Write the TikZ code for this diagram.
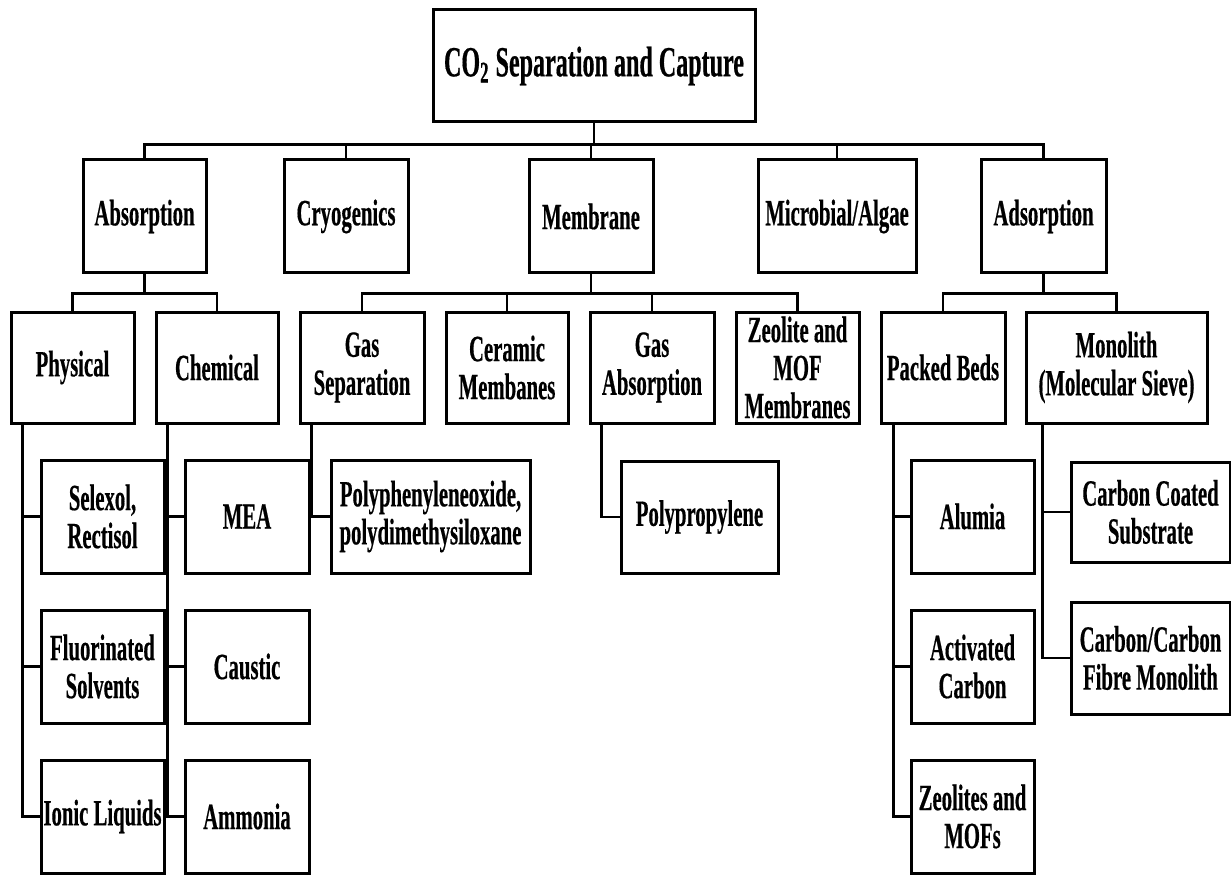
\documentclass[tikz,border=0pt]{standalone}
\usepackage{fontspec}
\setmainfont{Liberation Serif}[FakeStretch=0.56,BoldFeatures={FakeBold=0.4}]
\usetikzlibrary{positioning}

\begin{document}
\begin{tikzpicture}[x=0.5pt,y=-0.5pt,
        box/.style={draw,line width=1.5pt,align=center,inner sep=0pt,
          font=\bfseries\fontsize{18.5}{19}\selectfont},
        size/.style 2 args={minimum width=#1*0.5pt,minimum height=#2*0.5pt},
        link/.style={line width=1.2pt}]

  \useasboundingbox (0,0) rectangle (1231,877);

  \node[box,size={322}{112},font=\bfseries\fontsize{21.5}{23}\selectfont] (root) at (594,66)
        {CO\textsubscript{2} Separation and Capture};

  \node[box,size={123}{113}] (absorb) at (144.5,216.5) {Absorption};
  \node[box,size={124}{113}] (cryo)   at (346,216.5)   {Cryogenics};
  \node[box,size={124}{113}] (memb)   at (591,216.5)   {Membrane};
  \node[box,size={158}{113}] (micro)  at (837,216.5)   {Microbial/Algae};
  \node[box,size={125}{113}] (adsorb) at (1043.5,216.5) {Adsorption};

  \node[box,size={123}{111}] (phys)   at (72.5,367.5)  {Physical};
  \node[box,size={122}{111}] (chem)   at (217,367.5)   {Chemical};
  \node[box,size={124}{111}] (gassep) at (362,367.5)   {Gas\\Separation};
  \node[box,size={122}{111}] (ceram)  at (507,367.5)   {Ceramic\\Membanes};
  \node[box,size={124}{111}] (gasabs) at (652,367.5)   {Gas\\Absorption};
  \node[box,size={123}{111}] (zeomof) at (797.5,367.5) {Zeolite and\\MOF\\Membranes};
  \node[box,size={124}{111}] (packed) at (943,367.5)   {Packed Beds};
  \node[box,size={181}{111}] (mono)   at (1116.5,367.5) {Monolith\\(Molecular Sieve)};

  \node[box,size={123}{113}] (selex)  at (102.5,516.5) {Selexol,\\Rectisol};
  \node[box,size={123}{113}] (fluor)  [below=17pt of selex] {Fluorinated\\Solvents};
  \node[box,size={123}{113}] (ionic)  [below=17pt of fluor] {Ionic Liquids};

  \node[box,size={124}{113}] (mea)     at (247,516.5) {MEA};
  \node[box,size={124}{113}] (caustic) [below=17pt of mea] {Caustic};
  \node[box,size={124}{113}] (ammonia) [below=17pt of caustic] {Ammonia};

  \node[box,size={199}{113}] (polyph)   at (430.5,516.5) {Polyphenyleneoxide,\\polydimethysiloxane};
  \node[box,size={157}{112}] (polyprop) at (699.5,517)   {Polypropylene};

  \node[box,size={123}{113}] (alumia)  at (972.5,516.5) {Alumia};
  \node[box,size={123}{113}] (actcarb) [below=17pt of alumia] {Activated\\Carbon};
  \node[box,size={123}{113}] (zeos)    [below=17pt of actcarb] {Zeolites and\\MOFs};

  \node[box,size={159}{100}] (ccoat)   at (1150.5,512) {Carbon Coated\\Substrate};
  \node[box,size={159}{112}] (ccfibre) [below=18.5pt of ccoat] {Carbon/Carbon\\Fibre Monolith};

  \foreach \c in {absorb,cryo,memb,micro,adsorb}
    \draw[link] (root.south) -- ++(0,21) -| (\c.north);
  \foreach \c in {phys,chem}
    \draw[link] (absorb.south) -- ++(0,19) -| (\c.north);
  \foreach \c in {gassep,ceram,gasabs,zeomof}
    \draw[link] (memb.south) -- ++(0,19) -| (\c.north);
  \foreach \c in {packed,mono}
    \draw[link] (adsorb.south) -- ++(0,19) -| (\c.north);

  \foreach \c in {selex,fluor,ionic}
    \draw[link] ([xshift=6.5pt]phys.south west) |- (\c.west);
  \foreach \c in {mea,caustic,ammonia}
    \draw[link] ([xshift=6.5pt]chem.south west) |- (\c.west);
  \draw[link] ([xshift=6.5pt]gassep.south west) |- (polyph.west);
  \draw[link] ([xshift=6.5pt]gasabs.south west) |- (polyprop.west);
  \foreach \c in {alumia,actcarb,zeos}
    \draw[link] ([xshift=7pt]packed.south west) |- (\c.west);
  \foreach \c in {ccoat,ccfibre}
    \draw[link] ([xshift=9pt]mono.south west) |- (\c.west);

\end{tikzpicture}
\end{document}
